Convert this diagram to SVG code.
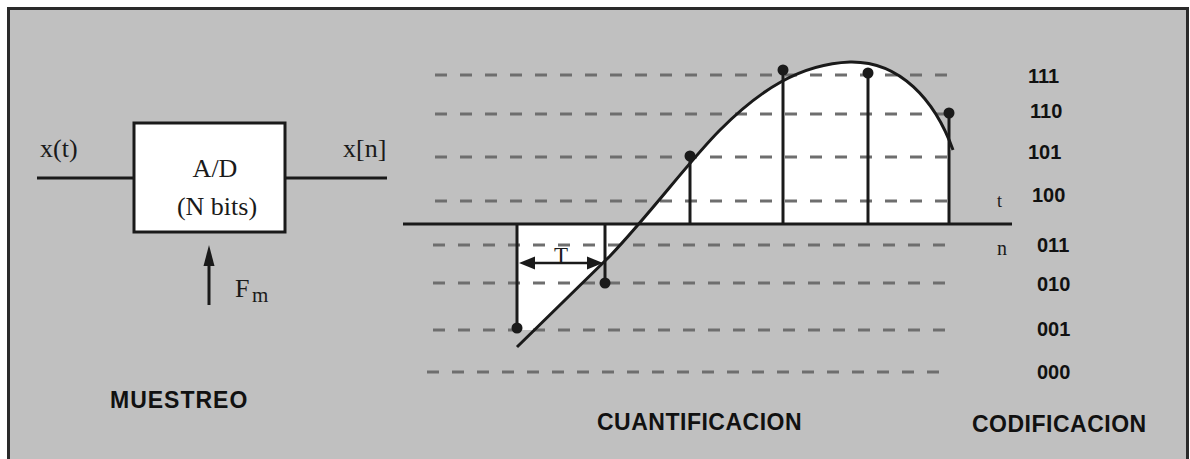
<svg xmlns="http://www.w3.org/2000/svg" width="1190" height="459" viewBox="0 0 1190 459">
  <defs>
    <style>
      .ln { stroke: #1a1a1a; stroke-width: 3; fill: none; }
      .dash { stroke: #6e6e6e; stroke-width: 3; stroke-dasharray: 12 13; fill: none; }
      .serif { font-family: "Liberation Serif", "Times New Roman", serif; fill: #1a1a1a; }
      .sans { font-family: "Liberation Sans", Arial, sans-serif; font-weight: bold; fill: #111; }
      .code { font-family: "Liberation Sans", Arial, sans-serif; font-weight: bold; font-size: 20px; fill: #111; }
      .dot { fill: #1a1a1a; }
      .head { fill: #1a1a1a; }
    </style>
  </defs>

  <rect x="0" y="0" width="1190" height="459" fill="#ffffff"/>
  <g id="frame">
    <rect x="8.5" y="8.5" width="1179" height="460" fill="#c0c0c0" stroke="#2a2a2a" stroke-width="3"/>
  </g>

  <!-- MUESTREO section -->
  <g id="connectors">
    <line class="ln" x1="37" y1="178" x2="134" y2="178"/>
    <line class="ln" x1="285" y1="178" x2="387" y2="178"/>
    <line class="ln" x1="209" y1="305" x2="209" y2="262"/>
    <polygon class="head" points="209,245 203.5,266 214.5,266"/>
  </g>
  <g id="ad-block">
    <rect x="134" y="123" width="151" height="109" fill="#ffffff" stroke="#1a1a1a" stroke-width="3"/>
    <text class="serif" x="215" y="177" font-size="26" text-anchor="middle">A/D</text>
    <text class="serif" x="217" y="215" font-size="26" text-anchor="middle">(N bits)</text>
  </g>
  <g id="labels-left">
    <text class="serif" x="40" y="157" font-size="26">x(t)</text>
    <text class="serif" x="343" y="157" font-size="26">x[n]</text>
    <text class="serif" x="235" y="297" font-size="26">F</text>
    <text class="serif" x="252" y="302" font-size="21">m</text>
    <text class="sans" x="110" y="408" font-size="23" letter-spacing="1">MUESTREO</text>
  </g>

  <!-- CUANTIFICACION section -->
  <g id="quantizer">
    <path d="M517 224 L517 330 L534 330 L610 256 C650 214 690 160 720 130 C760 90 800 64 850 62 C900 61 935 100 953 150 L949 150 L949 224 Z" fill="#ffffff"/>
    <g id="levels">
      <line class="dash" x1="435" y1="75" x2="950" y2="75"/>
      <line class="dash" x1="435" y1="114" x2="950" y2="114"/>
      <line class="dash" x1="435" y1="157" x2="950" y2="157"/>
      <line class="dash" x1="435" y1="201" x2="950" y2="201"/>
      <line class="dash" x1="433" y1="245" x2="950" y2="245"/>
      <line class="dash" x1="433" y1="283" x2="950" y2="283"/>
      <line class="dash" x1="433" y1="330" x2="950" y2="330"/>
      <line class="dash" x1="427" y1="372" x2="945" y2="372"/>
    </g>
    <line class="ln" x1="403" y1="224" x2="1012" y2="224"/>
    <path class="ln" d="M517 347 L610 256 C650 214 690 160 720 130 C760 90 800 64 850 62 C900 61 935 100 953 150"/>
    <g id="samples">
      <line class="ln" x1="517" y1="224" x2="517" y2="328"/>
      <line class="ln" x1="605" y1="224" x2="605" y2="283"/>
      <line class="ln" x1="690" y1="224" x2="690" y2="156"/>
      <line class="ln" x1="783" y1="224" x2="783" y2="70"/>
      <line class="ln" x1="868" y1="224" x2="868" y2="73"/>
      <line class="ln" x1="949" y1="224" x2="949" y2="113"/>
      <circle class="dot" cx="517" cy="328" r="5.5"/>
      <circle class="dot" cx="605" cy="283" r="5.5"/>
      <circle class="dot" cx="690" cy="156" r="5.5"/>
      <circle class="dot" cx="783" cy="70" r="5.5"/>
      <circle class="dot" cx="868" cy="73" r="5.5"/>
      <circle class="dot" cx="949" cy="113" r="5.5"/>
    </g>
    <g id="period">
      <line stroke="#1a1a1a" stroke-width="2.5" x1="530" y1="263" x2="592" y2="263"/>
      <polygon class="head" points="519,263 535,256.5 535,269.5"/>
      <polygon class="head" points="603,263 587,256.5 587,269.5"/>
      <text class="serif" x="561" y="263" font-size="23" text-anchor="middle">T</text>
    </g>
    <text class="serif" x="997" y="207" font-size="18" fill="#444">t</text>
    <text class="serif" x="997" y="255" font-size="20" fill="#444">n</text>
    <text class="sans" x="597" y="430" font-size="23" letter-spacing="0.5">CUANTIFICACION</text>
  </g>

  <!-- CODIFICACION section -->
  <g id="codes">
    <text class="code" x="1028" y="83">111</text>
    <text class="code" x="1030" y="118">110</text>
    <text class="code" x="1028" y="159">101</text>
    <text class="code" x="1032" y="202">100</text>
    <text class="code" x="1037" y="252">011</text>
    <text class="code" x="1037" y="291">010</text>
    <text class="code" x="1037" y="336">001</text>
    <text class="code" x="1037" y="379">000</text>
    <text class="sans" x="972" y="432" font-size="23" letter-spacing="0.5">CODIFICACION</text>
  </g>
</svg>
